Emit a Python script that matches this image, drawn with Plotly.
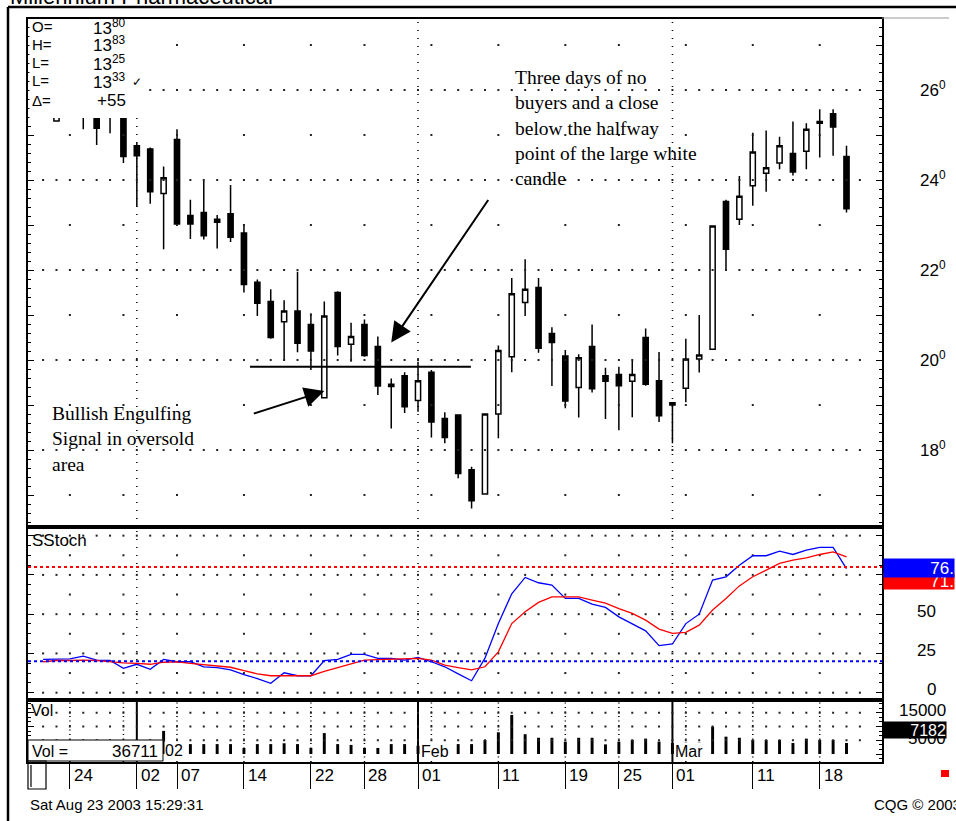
import plotly.graph_objects as go

# Daily bars 20 Dec 2001 - 20 Mar 2002
dates = ['2001-12-20', '2001-12-21', '2001-12-24', '2001-12-26', '2001-12-27', '2001-12-28', '2001-12-31',
         '2002-01-02', '2002-01-03', '2002-01-04', '2002-01-07', '2002-01-08', '2002-01-09', '2002-01-10',
         '2002-01-11', '2002-01-14', '2002-01-15', '2002-01-16', '2002-01-17', '2002-01-18', '2002-01-22',
         '2002-01-23', '2002-01-24', '2002-01-25', '2002-01-28', '2002-01-29', '2002-01-30', '2002-01-31',
         '2002-02-01', '2002-02-04', '2002-02-05', '2002-02-06', '2002-02-07', '2002-02-08', '2002-02-11',
         '2002-02-12', '2002-02-13', '2002-02-14', '2002-02-15', '2002-02-19', '2002-02-20', '2002-02-21',
         '2002-02-22', '2002-02-25', '2002-02-26', '2002-02-27', '2002-02-28', '2002-03-01', '2002-03-04',
         '2002-03-05', '2002-03-06', '2002-03-07', '2002-03-08', '2002-03-11', '2002-03-12', '2002-03-13',
         '2002-03-14', '2002-03-15', '2002-03-18', '2002-03-19', '2002-03-20']

opens = [25.7, 25.31, 25.6, 25.6, 25.6, 25.5, 25.5, 24.76, 24.69, 23.70,
         24.90, 23.21, 23.28, 23.13, 23.25, 22.82, 21.73, 21.30, 20.85, 21.09,
         20.79, 19.16, 21.50, 20.35, 20.79, 20.30, 19.46, 19.65, 19.10, 19.73,
         18.70, 18.78, 17.56, 17.02, 18.80, 20.07, 21.28, 21.61, 20.59, 20.09,
         19.39, 20.30, 19.65, 19.68, 19.53, 20.50, 19.54, 19.05, 19.37, 20.02,
         20.24, 23.52, 23.13, 23.87, 24.15, 24.38, 24.59, 24.64, 25.30, 25.47, 24.52]
highs = [26.0, 25.7, 25.9, 25.8, 25.7, 25.6, 25.6, 24.82, 24.72, 24.30,
         25.13, 23.56, 23.98, 23.22, 23.89, 23.02, 21.79, 21.57, 21.33, 21.96,
         21.04, 21.30, 21.53, 20.83, 20.90, 20.52, 19.59, 19.73, 19.96, 19.78,
         18.84, 18.79, 17.63, 18.80, 20.32, 21.82, 22.24, 21.82, 20.73, 20.22,
         20.13, 20.79, 19.83, 19.85, 19.98, 20.70, 20.18, 19.06, 20.47, 21.00,
         22.98, 23.56, 24.09, 25.05, 25.10, 24.96, 25.30, 25.26, 25.57, 25.57, 24.76]
lows = [25.5, 25.30, 25.45, 25.13, 24.78, 25.04, 24.38, 23.41, 23.47, 22.46,
        22.98, 22.69, 22.68, 22.48, 22.62, 21.50, 20.98, 20.47, 19.98, 20.17,
        19.78, 19.16, 20.10, 19.96, 20.07, 19.22, 18.48, 18.82, 18.85, 18.28,
        18.15, 17.37, 16.70, 17.02, 18.26, 19.73, 20.98, 20.16, 19.42, 18.93,
        18.72, 19.28, 18.69, 18.44, 18.73, 19.43, 18.62, 18.15, 19.06, 19.72,
        20.24, 21.98, 23.00, 23.43, 23.74, 24.24, 24.10, 24.24, 24.50, 24.54, 23.28]
closes = [25.8, 25.55, 25.7, 25.5, 25.15, 25.45, 24.52, 24.54, 23.74, 24.05,
          23.02, 23.02, 22.76, 23.06, 22.73, 21.68, 21.26, 20.50, 21.09, 20.37,
          20.20, 20.98, 20.30, 20.52, 20.10, 19.42, 19.41, 18.96, 19.54, 18.62,
          18.28, 17.48, 16.87, 18.80, 20.21, 21.47, 21.57, 20.26, 20.39, 19.09,
          20.05, 19.36, 19.53, 19.43, 19.68, 19.46, 18.76, 19.00, 20.02, 20.11,
          22.98, 22.46, 23.64, 24.62, 24.27, 24.76, 24.18, 25.13, 25.26, 25.18, 23.36]
volume = [3200, 2800, 3500, 3000, 3300, 2900, 3100, 3400, 3000, 8400,
          3600, 3600, 3600, 3600, 3600, 2200, 3600, 3600, 3900, 3600,
          2200, 7600, 3600, 3300, 2200, 2200, 3600, 3600, 3000, 3000,
          3600, 3600, 3600, 5100, 7900, 14200, 7200, 5900, 5900, 4500,
          5900, 5900, 3500, 4500, 5100, 5600, 4500, 4000, 4200, 4200,
          9900, 6300, 5900, 5100, 5100, 5100, 4000, 5600, 5100, 5100, 4000]
stoch_k = [21.2, 21.2, 21.5, 23.3, 20.8, 20.5, 15.5, 18.1, 14.9, 21.2,
           19.7, 19.7, 16.5, 15.9, 14.5, 11.5, 9.0, 6.0, 12.7, 10.8,
           10.8, 20.4, 21.2, 24.4, 24.4, 21.9, 21.9, 20.8, 22.5, 19.7,
           16.5, 12.0, 7.6, 22.0, 44.0, 63.0, 73.4, 70.0, 68.5, 60.0,
           60.0, 56.4, 54.3, 48.3, 43.7, 39.4, 30.0, 31.0, 44.0, 50.0,
           71.7, 73.8, 81.2, 87.2, 87.2, 90.1, 88.0, 90.8, 92.5, 92.5, 79.0]
stoch_d = [19.7, 20.5, 20.5, 20.8, 20.5, 19.7, 19.0, 18.7, 18.1, 19.4,
           19.7, 18.7, 17.8, 17.0, 16.2, 14.0, 12.0, 10.8, 10.8, 10.8,
           10.8, 13.5, 15.9, 18.5, 20.8, 21.0, 21.2, 21.5, 21.9, 20.8,
           17.5, 16.0, 14.5, 16.5, 26.0, 44.0, 51.5, 57.5, 61.0, 61.0,
           61.0, 59.0, 57.0, 53.5, 50.5, 46.2, 40.5, 37.8, 38.4, 43.0,
           52.6, 60.0, 68.0, 73.8, 78.0, 82.3, 84.4, 85.9, 88.0, 89.7, 86.5]

week_starts = ['2001-12-24', '2001-12-31', '2002-01-07', '2002-01-14', '2002-01-22', '2002-01-28', '2002-02-04',
               '2002-02-11', '2002-02-19', '2002-02-25', '2002-03-04', '2002-03-11', '2002-03-18']
month_starts = ['2002-01-02', '2002-02-01', '2002-03-01']
month_names = ['02', 'Feb', 'Mar']
tick_dates = ['2001-12-24', '2002-01-02', '2002-01-07', '2002-01-14', '2002-01-22', '2002-01-28', '2002-02-01',
              '2002-02-11', '2002-02-19', '2002-02-25', '2002-03-01', '2002-03-11', '2002-03-18']
tick_text = ['24', '02', '07', '14', '22', '28', '01', '11', '19', '25', '01', '11', '18']
price_labels = [18, 20, 22, 24, 26]
stoch_labels = [0, 25, 50]
vol_labels = [15000, 5000]
overbought, oversold = 80, 20
halfway_level = 19.85
halfway_span = ('2002-01-14', '2002-02-07')
engulfing_day = '2002-01-23'
no_buyers_day = '2002-01-30'
quote = [('O=', '13<sup>80</sup>'), ('H=', '13<sup>83</sup>'), ('L=', '13<sup>25</sup>'),
         ('L=', '13<sup>33</sup>'), ('Δ=', '+55')]

pos = {d: i for i, d in enumerate(dates)}
xs = list(range(len(dates)))

# page geometry (pixels)
W, H = 956, 821
L, R, T, B = 28, 882, 19, 762
def px(x): return (x - L) / (R - L)
def py(y): return (B - y) / (B - T)

step, first = 13.39, 43.1
x_range = [(L - first) / step, (R - first) / step]

sans = 'Liberation Sans'
serif = 'Liberation Serif'

fig = go.Figure()

# grid dots
def dots(levels, cols, xa, ya):
    gx, gy = [], []
    for lv in levels:
        gx += cols
        gy += [lv] * len(cols)
    fig.add_scatter(x=gx, y=gy, mode='markers', xaxis=xa, yaxis=ya, hoverinfo='skip',
                    marker=dict(symbol='square', size=2, color='#222'))

day_cols = list(range(len(dates) + 1))
week_cols = [pos[d] for d in week_starts]
dots([18, 20, 22, 24, 26], day_cols, 'x', 'y')
dots([17, 19, 21, 23, 25, 27], week_cols, 'x', 'y')
dots([0, 25, 50, 75, 100], day_cols, 'x2', 'y2')
dots([12.5, 37.5, 62.5, 87.5], week_cols, 'x2', 'y2')
dots([5000, 10000, 15000], day_cols, 'x3', 'y3')

fig.add_trace(go.Candlestick(
    x=xs, open=opens, high=highs, low=lows, close=closes,
    increasing=dict(line=dict(color='black', width=1.5), fillcolor='white'),
    decreasing=dict(line=dict(color='black', width=1.5), fillcolor='black'),
    whiskerwidth=0, xaxis='x', yaxis='y', hoverinfo='skip'))

fig.add_scatter(x=xs, y=stoch_k, mode='lines', line=dict(color='#0000ff', width=1.3),
                xaxis='x2', yaxis='y2', hoverinfo='skip')
fig.add_scatter(x=xs, y=stoch_d, mode='lines', line=dict(color='#ff0000', width=1.3),
                xaxis='x2', yaxis='y2', hoverinfo='skip')

fig.add_bar(x=xs, y=volume, width=0.22, marker=dict(color='black', line=dict(width=0)),
            xaxis='x3', yaxis='y3', hoverinfo='skip')

shapes = []
for d in month_starts:
    for xa, ya in (('x', 'y'), ('x2', 'y2')):
        shapes.append(dict(type='line', xref=xa, yref=ya + ' domain', x0=pos[d], x1=pos[d], y0=0, y1=1,
                           line=dict(color='black', width=1.5, dash='1px,7px'), layer='below'))
    shapes.append(dict(type='line', xref='x3', yref='y3 domain', x0=pos[d], x1=pos[d], y0=0, y1=1,
                       line=dict(color='black', width=2), layer='below'))
for d in week_starts:
    shapes.append(dict(type='line', xref='x3', yref='y3 domain', x0=pos[d], x1=pos[d], y0=0, y1=1,
                       line=dict(color='black', width=1.5, dash='1px,3.5px'), layer='below'))
for lv, col in ((overbought, '#ff0000'), (oversold, '#0000ff')):
    shapes.append(dict(type='line', xref='x2 domain', yref='y2', x0=0, x1=1, y0=lv, y1=lv,
                       line=dict(color=col, width=2, dash='3px,3px')))
shapes.append(dict(type='line', xref='x', yref='y', x0=pos[halfway_span[0]] + 0.45,
                   x1=pos[halfway_span[1]] - 0.05, y0=halfway_level, y1=halfway_level,
                   line=dict(color='black', width=2), layer='above'))

# quote box, volume box, bottom-left box, frame
shapes += [
    dict(type='rect', xref='paper', yref='paper', x0=px(29.5), x1=px(146), y0=py(118), y1=py(20.5),
         fillcolor='white', line=dict(width=0), layer='above'),
    dict(type='rect', xref='paper', yref='paper', x0=px(28), x1=px(163), y0=py(761), y1=py(740),
         fillcolor='white', line=dict(color='black', width=1), layer='above'),
    dict(type='rect', xref='paper', yref='paper', x0=px(28), x1=px(46), y0=py(789), y1=py(761),
         line=dict(color='black', width=1.2), layer='above'),
    dict(type='line', xref='paper', yref='paper', x0=px(31), x1=px(31), y0=py(787), y1=py(765),
         line=dict(color='black', width=1.2)),
    dict(type='line', xref='paper', yref='paper', x0=px(8), x1=px(8), y0=py(821), y1=py(7),
         line=dict(color='black', width=2.5)),
    dict(type='line', xref='paper', yref='paper', x0=px(8), x1=px(956), y0=py(7), y1=py(7),
         line=dict(color='black', width=2.5)),
    dict(type='line', xref='paper', yref='paper', x0=px(882), x1=px(949), y0=py(18), y1=py(18),
         line=dict(color='#999999', width=1)),
    dict(type='rect', xref='paper', yref='paper', x0=px(941), x1=px(949), y0=py(777), y1=py(770),
         fillcolor='#ff0000', line=dict(width=0)),
]

ann = []
def text(x, y, s, size=16, xanchor='left', family=sans, **kw):
    ann.append(dict(x=x, y=y, xref=kw.pop('xref', 'paper'), yref=kw.pop('yref', 'paper'), text=s,
                    showarrow=False, xanchor=xanchor, yanchor=kw.pop('yanchor', 'middle'),
                    font=dict(family=family, size=size, color=kw.pop('color', 'black')), **kw))

text(px(8), py(-4), 'Millennium Pharmaceutical', size=22)

for k, (lab, val) in enumerate(quote):
    yy = [27, 44.5, 63, 81, 100][k]
    text(px(30), py(yy), lab, size=15)
    text(px(128), py(yy), val, size=17, xanchor='right')
text(px(130), py(82), '✓', size=12)

for v in price_labels:
    text(px(948), v, f'{v}<sup>0</sup>', size=17, xanchor='right', yref='y', yshift=1)
for v in stoch_labels:
    text(px(938), v, str(v), size=17, xanchor='right', yref='y2', yshift=3)
for v in vol_labels:
    text(px(948), v, str(v), size=17, xanchor='right', yref='y3', yshift=2)

text(px(883), py(581.5), '71.', size=17, color='white', bgcolor='#ff0000', width=70, height=15,
     align='right', borderpad=0)
text(px(883), py(568), '76.', size=17, color='white', bgcolor='#0000ff', width=70, height=18,
     align='right', borderpad=0)
text(px(883), py(730), '7182', size=16, color='white', bgcolor='black', width=62, height=16,
     align='right', borderpad=0)

text(px(30), py(540), 'SStoch', size=17)
text(px(29), py(710.5), 'Vol', size=16)
text(px(30), py(751), 'Vol =', size=16)
text(px(160), py(751), '36711', size=17, xanchor='right')

for d, name in zip(month_starts, month_names):
    if name == '02':
        text(px(164), py(750), name, size=16, bgcolor='white', borderpad=0)
    else:
        text(pos[d], py(751), name, size=16, xref='x3', xshift=2, bgcolor='white', borderpad=0)

for d, t in zip(tick_dates, tick_text):
    text(pos[d], py(775), t, size=17, xref='x3', xshift=2)

text(px(28), py(804), 'Sat Aug 23 2003 15:29:31', size=15)
text(px(872), py(804), 'CQG © 2003', size=15)

text(px(513), py(65), 'Three days of no<br>buyers and a close<br>below the halfway<br>point of the large white<br>candle',
     size=19.5, family=serif, yanchor='top', align='left')
text(px(50), py(401), 'Bullish Engulfing<br>Signal in oversold<br>area',
     size=19.5, family=serif, yanchor='top', align='left')

arrow = dict(showarrow=True, arrowhead=2, arrowsize=2, arrowwidth=2, arrowcolor='black',
             text='', xref='x', yref='y')
ann.append(dict(x=pos[engulfing_day], y=lows[pos[engulfing_day]] + 0.15, ax=-72, ay=23, **arrow))
ann.append(dict(x=pos[no_buyers_day], y=highs[pos[no_buyers_day]] + 0.8, ax=98, ay=-144, **arrow))

axis_common = dict(range=x_range, showticklabels=False, showgrid=False, zeroline=False,
                   showline=True, mirror=True, linecolor='black', linewidth=2)
yaxis_common = dict(side='right', showticklabels=False, showgrid=False, zeroline=False,
                    showline=True, mirror='ticks', linecolor='black', linewidth=2,
                    ticks='inside', ticklen=6, tickcolor='black', tickwidth=1)

fig.update_layout(
    width=W, height=H,
    margin=dict(l=L, r=W - R, t=T, b=H - B),
    paper_bgcolor='white', plot_bgcolor='white',
    showlegend=False, hovermode=False, boxgap=0.45,
    xaxis=dict(domain=[0, 1], anchor='y', ticks='', rangeslider=dict(visible=False), **axis_common),
    xaxis2=dict(domain=[0, 1], anchor='y2', ticks='', matches='x', **axis_common),
    xaxis3=dict(domain=[0, 1], anchor='y3', matches='x', ticks='outside', ticklen=25, tickwidth=1,
                tickcolor='black', tickvals=[pos[d] for d in tick_dates], **axis_common),
    yaxis=dict(domain=[py(527), 1], range=[16.289, 27.578], tickvals=list(range(17, 28)),
               minor=dict(dtick=0.2, ticks='inside', ticklen=3, tickcolor='black'), **yaxis_common),
    yaxis2=dict(domain=[py(700), py(527)], range=[-4.65, 105.5], tickvals=[0, 25, 50, 75, 100],
                minor=dict(dtick=6.25, ticks='inside', ticklen=3, tickcolor='black'), **yaxis_common),
    yaxis3=dict(domain=[0, py(700)], range=[-2909, 19636], tickvals=[0, 5000, 10000, 15000],
                minor=dict(dtick=5000 / 3, ticks='inside', ticklen=3, tickcolor='black'), **yaxis_common),
    shapes=shapes, annotations=ann,
)

# the page body keeps its default 8px margin otherwise
fig.write_html('out.html', config={'displayModeBar': False},
               post_script="document.body.style.margin='0px';")
